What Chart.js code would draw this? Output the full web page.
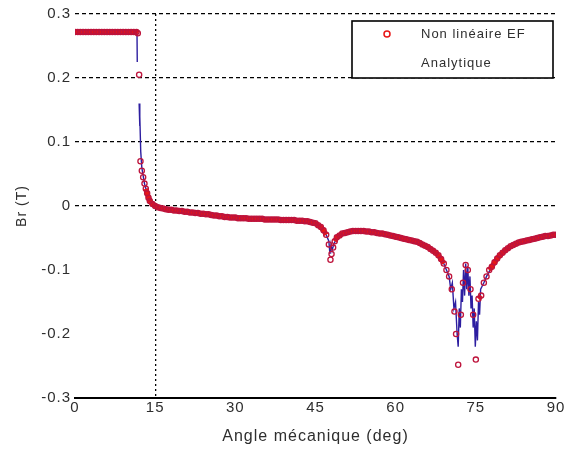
<!DOCTYPE html>
<html>
<head>
<meta charset="utf-8">
<script src="https://cdn.jsdelivr.net/npm/chart.js@4/dist/chart.umd.min.js"></script>
<style>
html,body{margin:0;padding:0;background:#fff;}
canvas{display:block;}
</style>
</head>
<body>
<canvas id="c" width="571" height="450"></canvas>
<script>
// ---- Data ----
const feAngles = [
  0,0.5,1,1.5,2,2.5,3,3.5,4,4.5,5,5.5,6,6.5,7,7.5,8,8.5,9,9.5,10,10.5,11,11.5,
  11.75,12,12.25,12.5,12.75,13,13.25,13.5,13.75,14,14.5,
  15,15.5,16,16.5,17,17.5,18,18.5,19,19.5,20,20.5,21,21.5,22,22.5,23,23.5,24,24.5,
  25,25.5,26,26.5,27,27.5,28,28.5,29,29.5,30,30.5,31,31.5,32,32.5,33,33.5,34,34.5,
  35,35.5,36,36.5,37,37.5,38,38.5,39,39.5,40,40.5,41,41.5,42,42.5,43,43.5,44,44.5,
  45,45.5,46,46.5,47,47.5,47.8,48,48.3,48.6,49,49.5,
  50,50.5,51,51.5,52,52.5,53,53.5,54,54.5,55,55.5,56,56.5,57,57.5,58,58.5,59,59.5,
  60,60.5,61,61.5,62,62.5,63,63.5,64,64.5,65,65.5,66,66.5,67,67.5,68,68.5,69,69.5,
  70,70.5,71,71.3,71.7,72.2,72.6,73.1,73.5,74,74.5,75,75.5,76,76.5,77,77.5,78,78.5,79,79.5,
  80,80.5,81,81.5,82,82.5,83,83.5,84,84.5,85,85.5,86,86.5,87,87.5,88,88.5,89,89.5,90
];
const feValues = [
  0.272,0.272,0.272,0.272,0.272,0.272,0.272,0.272,0.272,0.272,0.272,0.272,0.272,0.272,0.272,0.272,0.272,0.272,0.272,0.272,0.272,0.272,0.272,0.272,
  0.270,0.205,0.070,0.055,0.045,0.035,0.027,0.020,0.013,0.008,0.003,
  0.000,-0.002,-0.003,-0.004,-0.005,-0.006,-0.006,-0.007,-0.007,-0.008,-0.008,-0.009,-0.009,-0.010,-0.010,-0.011,-0.011,-0.012,-0.012,-0.013,
  -0.013,-0.014,-0.015,-0.015,-0.016,-0.016,-0.017,-0.017,-0.018,-0.018,-0.018,-0.019,-0.019,-0.019,-0.019,-0.020,-0.020,-0.020,-0.020,-0.020,
  -0.020,-0.021,-0.021,-0.021,-0.021,-0.021,-0.021,-0.022,-0.022,-0.022,-0.022,-0.022,-0.022,-0.023,-0.023,-0.023,-0.024,-0.024,-0.025,-0.026,
  -0.027,-0.030,-0.033,-0.038,-0.045,-0.060,-0.084,-0.075,-0.065,-0.055,-0.049,-0.046,
  -0.043,-0.042,-0.041,-0.040,-0.039,-0.039,-0.039,-0.039,-0.039,-0.040,-0.040,-0.041,-0.041,-0.042,-0.043,-0.043,-0.044,-0.045,-0.046,-0.047,
  -0.048,-0.049,-0.050,-0.051,-0.052,-0.053,-0.054,-0.055,-0.056,-0.058,-0.060,-0.062,-0.064,-0.067,-0.070,-0.073,-0.077,-0.083,-0.090,-0.100,
  -0.110,-0.130,-0.165,-0.200,-0.248,-0.170,-0.120,-0.092,-0.100,-0.130,-0.170,-0.240,-0.145,-0.140,-0.120,-0.110,-0.100,-0.095,-0.088,-0.082,-0.077,
  -0.073,-0.069,-0.066,-0.063,-0.061,-0.059,-0.057,-0.056,-0.055,-0.054,-0.053,-0.052,-0.051,-0.050,-0.049,-0.048,-0.047,-0.047,-0.046,-0.045,-0.045
];
const anAngles = [
  0,11.6,11.65,11.7,12.0,12.1,12.15,12.3,12.5,13,13.5,14,14.5,15,17,20,23,26,30,35,40,43,45,46,47,
  47.5,47.7,47.9,48.1,48.4,49,50,52,54,56,58,60,62,64,66,68,69,
  70,70.3,70.6,70.9,71.2,71.5,71.7,71.9,72.1,72.3,72.5,72.7,72.9,73.1,73.3,73.5,73.7,73.9,
  74.1,74.3,74.5,74.7,74.9,75.1,75.3,75.5,75.7,75.9,76.2,76.5,
  77,78,79,80,82,84,86,88,90
];
const anValues = [
  0.272,0.272,0.225,null,0.160,0.125,0.140,0.085,0.060,0.035,0.020,0.008,0.003,0.000,-0.005,-0.008,-0.011,-0.015,-0.018,-0.020,-0.022,-0.024,-0.027,-0.033,-0.045,
  -0.055,-0.075,-0.060,-0.070,-0.060,-0.049,-0.043,-0.039,-0.039,-0.041,-0.044,-0.048,-0.052,-0.056,-0.064,-0.077,-0.090,
  -0.110,-0.130,-0.120,-0.160,-0.150,-0.200,-0.220,-0.160,-0.190,-0.130,-0.150,-0.100,-0.140,-0.090,-0.130,-0.095,-0.140,-0.110,
  -0.160,-0.140,-0.190,-0.160,-0.220,-0.180,-0.210,-0.150,-0.170,-0.130,-0.125,-0.120,
  -0.110,-0.095,-0.082,-0.073,-0.061,-0.055,-0.051,-0.047,-0.045
];
const xTicks = [0,15,30,45,60,75,90];
const yTicks = [-0.3,-0.2,-0.1,0,0.1,0.2,0.3];
const yTickLabels = ['-0.3','-0.2','-0.1','0','0.1','0.2','0.3'];
const seriesLabels = ['Non linéaire EF','Analytique'];
const xTitle = 'Angle mécanique (deg)';
const yTitle = 'Br (T)';

const RED = 'rgb(232,22,22)';
const DARKRED = 'rgb(190,20,60)';
const BLUE = 'rgb(45,30,160)';
const TXT = '#2e2e2e';
const FONT = 'Liberation Sans, Arial, Helvetica, sans-serif';

const spacing = {
  id: 'spacing',
  beforeUpdate(chart) { chart.ctx.letterSpacing = '1px'; },
  beforeDraw(chart) { chart.ctx.letterSpacing = '1px'; }
};

const legendBox = {
  id: 'legendBox',
  afterDraw(chart) {
    const ctx = chart.ctx, a = chart.chartArea;
    const x = a.right - 204, y = a.top + 7, w = 201, h = 57;
    ctx.save();
    ctx.fillStyle = '#fff';
    ctx.fillRect(x, y, w, h);
    ctx.strokeStyle = '#000';
    ctx.lineWidth = 1.6;
    ctx.strokeRect(x, y, w, h);
    ctx.strokeStyle = RED;
    ctx.lineWidth = 1.5;
    ctx.beginPath();
    ctx.arc(x + 35, y + 13, 3, 0, Math.PI * 2);
    ctx.stroke();
    ctx.fillStyle = TXT;
    ctx.font = '13px ' + FONT;
    ctx.letterSpacing = '1px';
    ctx.textBaseline = 'middle';
    ctx.textAlign = 'left';
    ctx.fillText(seriesLabels[0], x + 69, y + 13);
    ctx.fillText(seriesLabels[1], x + 69, y + 42);
    ctx.restore();
  }
};

new Chart(document.getElementById('c'), {
  type: 'scatter',
  data: {
    datasets: [
      {
        label: seriesLabels[0],
        data: feAngles.map((a, i) => ({x: a, y: feValues[i]})),
        showLine: true,
        borderColor: RED,
        borderWidth: 5,
        segment: {
          borderColor: c => Math.abs(c.p1.y - c.p0.y) > 5 ? 'rgba(0,0,0,0)' : RED
        },
        pointStyle: 'circle',
        pointRadius: 2.6,
        pointBorderWidth: 1.3,
        pointBorderColor: DARKRED,
        pointBackgroundColor: 'rgba(255,255,255,0)',
        order: 0
      },
      {
        label: seriesLabels[1],
        data: anAngles.map((a, i) => ({x: a, y: anValues[i]})),
        showLine: true,
        borderColor: BLUE,
        borderWidth: 1.4,
        pointRadius: 0,
        spanGaps: false,
        order: 1
      }
    ]
  },
  options: {
    responsive: false,
    animation: false,
    devicePixelRatio: 1,
    layout: {padding: {left: 0, right: 15, top: 14, bottom: 0}},
    plugins: {legend: {display: false}, tooltip: {enabled: false}},
    scales: {
      x: {
        type: 'linear',
        min: 0, max: 90,
        afterBuildTicks: s => { s.ticks = xTicks.map(v => ({value: v})); },
        afterFit: s => { s.height = 52; },
        ticks: {color: TXT, font: {family: FONT, size: 15}, padding: 1, maxRotation: 0,
                callback: v => String(v)},
        grid: {drawTicks: false,
               color: c => (c.tick && c.tick.value === 15) ? '#000' : 'rgba(0,0,0,0)',
               lineWidth: 1.3},
        border: {display: true, color: '#000', width: 2, dash: [2, 3]},
        title: {display: true, text: xTitle, color: TXT, font: {family: FONT, size: 16},
                padding: {top: 0, bottom: 4}}
      },
      y: {
        type: 'linear',
        min: -0.3, max: 0.3,
        afterBuildTicks: s => { s.ticks = yTicks.map(v => ({value: v})); },
        afterFit: s => { s.width = 75; },
        ticks: {color: TXT, font: {family: FONT, size: 15}, padding: 4,
                callback: (v) => yTickLabels[yTicks.findIndex(t => Math.abs(t - v) < 1e-9)]},
        grid: {drawTicks: false,
               color: c => (c.tick && c.tick.value > -0.05) ? '#000' : 'rgba(0,0,0,0)',
               lineWidth: 1.2},
        border: {display: false, dash: [4, 3]},
        title: {display: true, text: yTitle, color: TXT, font: {family: FONT, size: 14},
                padding: {top: 14, bottom: 0}}
      }
    }
  },
  plugins: [spacing, legendBox]
});
</script>
</body>
</html>
